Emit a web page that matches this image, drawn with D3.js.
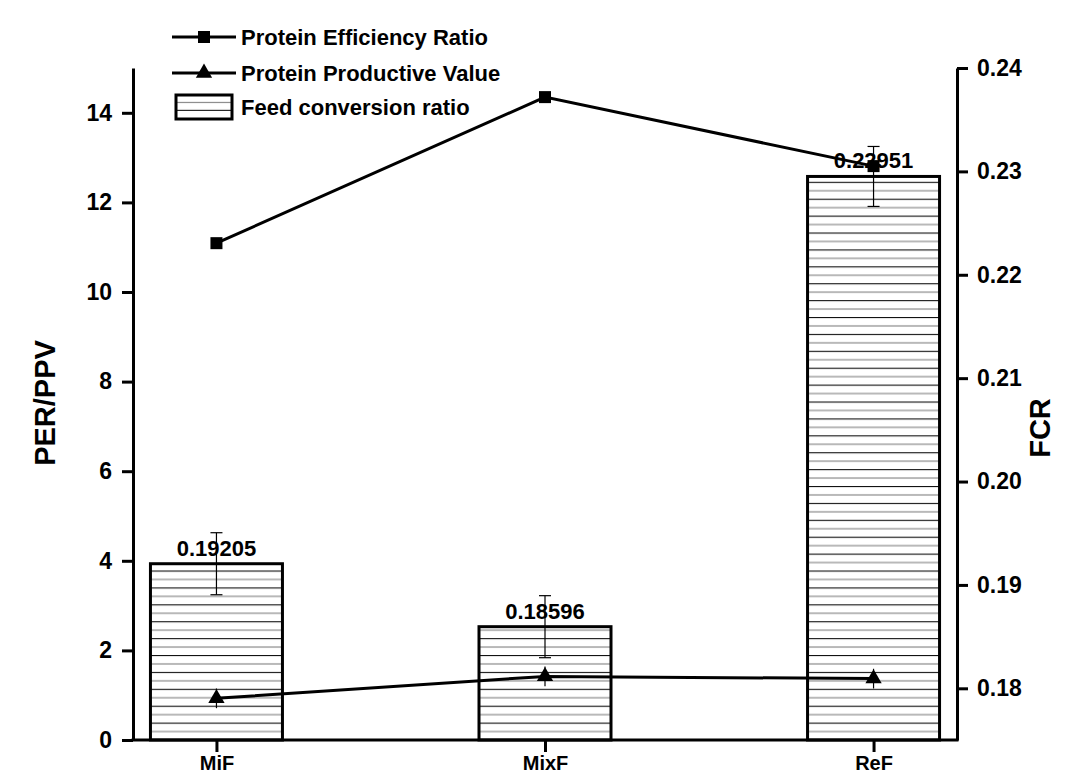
<!DOCTYPE html>
<html>
<head>
<meta charset="utf-8">
<script src="https://cdn.jsdelivr.net/npm/d3@7"></script>
<style>
  html, body { margin: 0; padding: 0; background: #fff; }
  svg { display: block; font-family: "Liberation Sans", Arial, sans-serif; font-weight: bold; }
</style>
</head>
<body>
<svg id="chart" width="1071" height="778"></svg>
<script>
// Diets compared
const categories = ["MiF", "MixF", "ReF"];
// Protein efficiency ratio (left axis)
const perValues = [11.09, 14.35, 12.81];
// Protein productive value (left axis)
const ppvValues = [0.93, 1.42, 1.37];
const ppvErrors = [0.22, 0.22, 0.22];
// Feed conversion ratio (right axis, bars)
const fcrValues = [0.19205, 0.18596, 0.22951];
const fcrErrors = [0.003, 0.003, 0.0029];
// Axis ticks
const leftTicks = [0, 2, 4, 6, 8, 10, 12, 14];
const rightTicks = [0.18, 0.19, 0.20, 0.21, 0.22, 0.23, 0.24];
const legendLabels = ["Protein Efficiency Ratio", "Protein Productive Value", "Feed conversion ratio"];

const svg = d3.select("#chart");
const plot = { left: 133, right: 957, top: 68, bottom: 740 };
const barWidth = 132;

const x = d3.scalePoint().domain(categories).range([plot.left, plot.right]).padding(0.254);
const yL = d3.scaleLinear().domain([0, 15]).range([plot.bottom, plot.top]);
const yR = d3.scaleLinear().domain([0.175, 0.24]).range([plot.bottom, plot.top]);

// Horizontal hatch: alternating dark and grey rules
const defs = svg.append("defs");
const pat = defs.append("pattern")
  .attr("id", "hatch")
  .attr("patternUnits", "userSpaceOnUse")
  .attr("width", 20).attr("height", 16.9)
  .attr("y", plot.bottom % 16.9 - 0.5);
pat.append("rect").attr("width", 20).attr("height", 16.9).attr("fill", "#fff");
pat.append("line").attr("x1", 0).attr("x2", 20).attr("y1", 0.5).attr("y2", 0.5)
  .attr("stroke", "#111").attr("stroke-width", 1.2);
pat.append("line").attr("x1", 0).attr("x2", 20).attr("y1", 8.95).attr("y2", 8.95)
  .attr("stroke", "#8a8a8a").attr("stroke-width", 1.2);

// FCR bars
svg.append("g").selectAll("rect")
  .data(categories)
  .join("rect")
  .attr("x", d => x(d) - barWidth / 2)
  .attr("width", barWidth)
  .attr("y", (d, i) => yR(fcrValues[i]))
  .attr("height", (d, i) => plot.bottom - yR(fcrValues[i]))
  .attr("fill", "url(#hatch)")
  .attr("stroke", "#000")
  .attr("stroke-width", 3);

// Bar value labels
svg.append("g").selectAll("text")
  .data(categories)
  .join("text")
  .attr("x", d => x(d))
  .attr("y", (d, i) => yR(fcrValues[i]) - 8)
  .attr("text-anchor", "middle")
  .attr("font-size", 22)
  .attr("fill", "#000")
  .text((d, i) => fcrValues[i].toFixed(5));

// FCR error bars
const capHalf = 6;
const fcrErr = svg.append("g").attr("stroke", "#000").attr("stroke-width", 1.2);
categories.forEach((c, i) => {
  const cx = x(c);
  const y1 = yR(fcrValues[i] + fcrErrors[i]);
  const y2 = yR(fcrValues[i] - fcrErrors[i]);
  fcrErr.append("line").attr("x1", cx).attr("x2", cx).attr("y1", y1).attr("y2", y2);
  fcrErr.append("line").attr("x1", cx - capHalf).attr("x2", cx + capHalf).attr("y1", y1).attr("y2", y1);
  fcrErr.append("line").attr("x1", cx - capHalf).attr("x2", cx + capHalf).attr("y1", y2).attr("y2", y2);
});

// PPV error bars
const ppvErr = svg.append("g").attr("stroke", "#000").attr("stroke-width", 1.2);
categories.forEach((c, i) => {
  ppvErr.append("line")
    .attr("x1", x(c)).attr("x2", x(c))
    .attr("y1", yL(ppvValues[i] + ppvErrors[i]))
    .attr("y2", yL(ppvValues[i] - ppvErrors[i]));
});

// Lines
const lineGen = vals => d3.line().x(d => x(d)).y((d, i) => yL(vals[i]))(categories);
svg.append("path").attr("d", lineGen(perValues))
  .attr("fill", "none").attr("stroke", "#000").attr("stroke-width", 3);
svg.append("path").attr("d", lineGen(ppvValues))
  .attr("fill", "none").attr("stroke", "#000").attr("stroke-width", 3);

// Markers
const sq = 12;
svg.append("g").selectAll("rect")
  .data(categories)
  .join("rect")
  .attr("x", d => x(d) - sq / 2)
  .attr("y", (d, i) => yL(perValues[i]) - sq / 2)
  .attr("width", sq).attr("height", sq)
  .attr("fill", "#000");

const tri = d3.symbol().type(d3.symbolTriangle).size(115);
svg.append("g").selectAll("path")
  .data(categories)
  .join("path")
  .attr("d", tri)
  .attr("transform", (d, i) => `translate(${x(d)},${yL(ppvValues[i])})`)
  .attr("fill", "#000");

// Axes
function styleAxis(g) {
  g.selectAll(".domain").attr("stroke", "#000").attr("stroke-width", 3);
  g.selectAll(".tick line").attr("stroke", "#000").attr("stroke-width", 3);
  g.selectAll(".tick text").attr("fill", "#000").attr("font-size", 23)
    .attr("font-family", "Liberation Sans, Arial, sans-serif").attr("font-weight", "bold");
}

const axisL = svg.append("g").attr("transform", `translate(${plot.left},0)`)
  .call(d3.axisLeft(yL).tickValues(leftTicks).tickSize(11).tickPadding(10).tickSizeOuter(0));
styleAxis(axisL);

const axisR = svg.append("g").attr("transform", `translate(${plot.right},0)`)
  .call(d3.axisRight(yR).tickValues(rightTicks).tickFormat(d3.format(".2f")).tickSize(11).tickPadding(9).tickSizeOuter(0));
styleAxis(axisR);

const axisB = svg.append("g").attr("transform", `translate(0,${plot.bottom})`)
  .call(d3.axisBottom(x).tickSize(12).tickPadding(4).tickSizeOuter(0));
styleAxis(axisB);
axisB.select(".domain").attr("d", `M${plot.left - 1.5},0H${plot.right + 1.5}`);
axisB.selectAll(".tick text").attr("font-size", 20).attr("dy", "0.71em");

// Axis titles
svg.append("text")
  .attr("transform", "translate(55,403) rotate(-90)")
  .attr("text-anchor", "middle")
  .attr("font-size", 29)
  .text("PER/PPV");
svg.append("text")
  .attr("transform", "translate(1050,428) rotate(-90)")
  .attr("text-anchor", "middle")
  .attr("font-size", 29)
  .text("FCR");

// Legend
const legend = svg.append("g");
const rows = [37, 73, 107];
[0, 1].forEach(k => {
  legend.append("line").attr("x1", 172).attr("x2", 236)
    .attr("y1", rows[k]).attr("y2", rows[k])
    .attr("stroke", "#000").attr("stroke-width", 3);
});
legend.append("rect").attr("x", 204 - sq / 2).attr("y", rows[0] - sq / 2)
  .attr("width", sq).attr("height", sq).attr("fill", "#000");
legend.append("path").attr("d", tri).attr("transform", `translate(204,${rows[1]})`).attr("fill", "#000");
const lp = defs.append("pattern")
  .attr("id", "hatchLegend")
  .attr("patternUnits", "userSpaceOnUse")
  .attr("width", 20).attr("height", 16.9)
  .attr("y", 94);
lp.append("rect").attr("width", 20).attr("height", 16.9).attr("fill", "#fff");
lp.append("line").attr("x1", 0).attr("x2", 20).attr("y1", 8.45).attr("y2", 8.45)
  .attr("stroke", "#8a8a8a").attr("stroke-width", 1.2);
lp.append("line").attr("x1", 0).attr("x2", 20).attr("y1", 16.4).attr("y2", 16.4)
  .attr("stroke", "#111").attr("stroke-width", 1.2);
legend.append("rect").attr("x", 176).attr("y", 95).attr("width", 56).attr("height", 24)
  .attr("fill", "url(#hatchLegend)").attr("stroke", "#000").attr("stroke-width", 3);
legendLabels.forEach((t, k) => {
  legend.append("text").attr("x", 241).attr("y", rows[k] + 8)
    .attr("font-size", 22).text(t);
});
</script>
</body>
</html>
